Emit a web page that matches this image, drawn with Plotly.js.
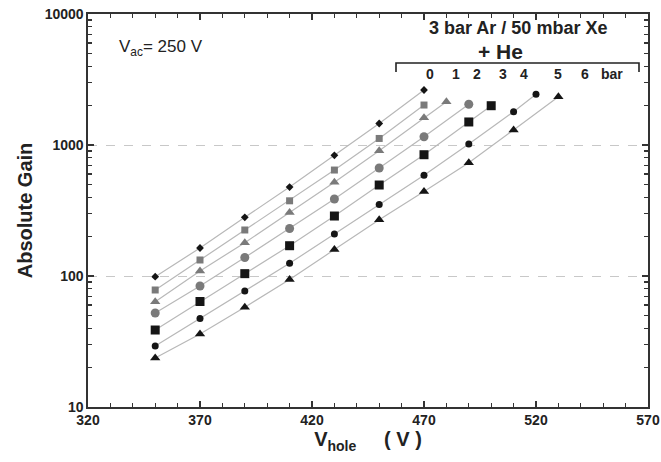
<!DOCTYPE html>
<html><head><meta charset="utf-8">
<script src="https://cdn.plot.ly/plotly-3.0.1.min.js"></script>
<style>html,body{margin:0;padding:0;background:#fff}#chart{width:661px;height:462px}</style>
</head><body><div id="chart"></div>
<script>
// He partial pressure series (bar), V_hole (V) vs absolute gain
const x_he0 = [350, 370, 390, 410, 430, 450, 470];
const y_he0 = [98.8, 163.6, 280.5, 477.6, 834, 1459, 2630];
const x_he1 = [350, 370, 390, 410, 430, 450, 470];
const y_he1 = [78.2, 132.5, 224.5, 375, 644, 1122, 2019];
const x_he2 = [350, 370, 390, 410, 430, 450, 470, 480];
const y_he2 = [63.7, 109.2, 179.6, 305.4, 519, 904, 1616, 2142];
const x_he3 = [350, 370, 390, 410, 430, 450, 470, 490];
const y_he3 = [52.2, 83.9, 138.4, 230.5, 387, 667, 1157, 2048];
const x_he4 = [350, 370, 390, 410, 430, 450, 470, 490, 500];
const y_he4 = [38.7, 63.9, 104.2, 170.3, 287, 495, 843, 1499, 1995];
const x_he5 = [350, 370, 390, 410, 430, 450, 470, 490, 510, 520];
const y_he5 = [29.2, 47.4, 76.8, 125, 209, 352, 588, 1018, 1795, 2438];
const x_he6 = [350, 370, 390, 410, 430, 450, 470, 490, 510, 530];
const y_he6 = [23.7, 36.1, 57.8, 94, 159, 269, 442, 733, 1302, 2337];

const heLabels = ['0', '1', '2', '3', '4', '5', '6', 'bar'];
const heLabelX = [430, 455.7, 476.7, 502.7, 524, 558.3, 585, 612];

const FONT = 'Arial, "Liberation Sans", sans-serif';
const gray = '#7a7a7a', black = '#151515', lineC = '#b8b8b8';

const series = [
  {x: x_he0, y: y_he0, sym: 'diamond', size: 6, color: black},
  {x: x_he1, y: y_he1, sym: 'square', size: 7, color: gray},
  {x: x_he2, y: y_he2, sym: 'triangle-up', size: 9, color: gray},
  {x: x_he3, y: y_he3, sym: 'circle', size: 9, color: gray},
  {x: x_he4, y: y_he4, sym: 'square', size: 9, color: black},
  {x: x_he5, y: y_he5, sym: 'circle', size: 7, color: black},
  {x: x_he6, y: y_he6, sym: 'triangle-up', size: 9, color: black}
];

const traces = series.map(s => ({
  x: s.x, y: s.y, type: 'scatter', mode: 'lines+markers',
  line: {color: lineC, width: 1.2},
  marker: {symbol: s.sym, size: s.size, color: s.color, line: {width: 0}},
  showlegend: false, hoverinfo: 'x+y'
}));

const pxToX = p => 320 + (p - 88) / 2.24;
const pyToPaper = p => (407 - p) / 393;

const annotations = [];
annotations.push({
  xref: 'x', yref: 'paper', x: pxToX(117), y: pyToPaper(48), xanchor: 'left', yanchor: 'middle',
  text: 'V<sub>ac</sub>= 250 V', showarrow: false, font: {family: FONT, size: 17, color: '#222'}
});
annotations.push({
  xref: 'x', yref: 'paper', x: pxToX(518), y: pyToPaper(28), xanchor: 'center', yanchor: 'middle',
  text: '<b>3 bar Ar / 50 mbar Xe</b>', showarrow: false, font: {family: FONT, size: 18, color: '#222'}
});
annotations.push({
  xref: 'x', yref: 'paper', x: pxToX(500), y: pyToPaper(52), xanchor: 'center', yanchor: 'middle',
  text: '<b>+ He</b>', showarrow: false, font: {family: FONT, size: 21, color: '#222'}
});
heLabels.forEach((t, i) => annotations.push({
  xref: 'x', yref: 'paper', x: pxToX(heLabelX[i]), y: pyToPaper(74), xanchor: 'center', yanchor: 'middle',
  text: '<b>' + t + '</b>', showarrow: false, font: {family: FONT, size: 14, color: '#222'}
}));

const bx0 = pxToX(396), bx1 = pxToX(639);
const byTop = pyToPaper(63), byBot = pyToPaper(72);
const shapes = [
  {type: 'path', xref: 'x', yref: 'paper',
   path: `M ${bx0} ${byBot} L ${bx0} ${byTop} L ${bx1} ${byTop} L ${bx1} ${byBot}`,
   line: {color: '#222', width: 1.6}}
];

const axisCommon = {
  showline: true, linecolor: '#333', linewidth: 1.6, mirror: 'ticks',
  ticks: 'inside', ticklen: 6, tickwidth: 1.2, tickcolor: '#333',
  tickfont: {family: FONT, size: 14, color: '#222', weight: 'bold'},
  zeroline: false
};

const layout = {
  width: 661, height: 462,
  margin: {l: 88, r: 13, t: 14, b: 55},
  paper_bgcolor: '#fff', plot_bgcolor: '#fff',
  font: {family: FONT},
  separators: '.',
  xaxis: Object.assign({}, axisCommon, {
    range: [320, 570], tick0: 320, dtick: 50, showgrid: false,
    minor: {dtick: 10, ticks: 'inside', ticklen: 4, tickcolor: '#333', showgrid: false},
    title: {text: '<b>V<sub>hole</sub>     ( V )</b>', font: {family: FONT, size: 20, color: '#222'}, standoff: 4}
  }),
  yaxis: Object.assign({}, axisCommon, {
    type: 'log', range: [1, 4], dtick: 1, tickformat: 'd',
    showgrid: true, gridcolor: '#c8c8c8', griddash: 'dash', gridwidth: 1,
    minor: {ticks: 'inside', ticklen: 4, tickcolor: '#333', showgrid: false},
    title: {text: '<b>Absolute Gain</b>', font: {family: FONT, size: 20, color: '#222'}, standoff: 6}
  }),
  annotations: annotations,
  shapes: shapes
};

Plotly.newPlot('chart', traces, layout, {displayModeBar: false, staticPlot: true});
</script></body></html>
